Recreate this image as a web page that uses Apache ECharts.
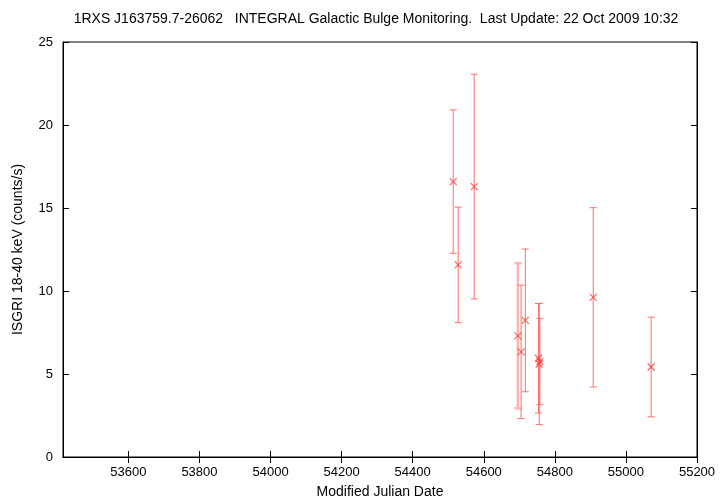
<!DOCTYPE html>
<html><head><meta charset="utf-8">
<script src="https://cdn.jsdelivr.net/npm/echarts@6/dist/echarts.min.js"></script>
<style>html,body{margin:0;padding:0;background:#fff}#c{width:720px;height:504px}</style>
</head><body><div id="c"></div>
<script>
// Data
const mjd   = [54514, 54528, 54573, 54705, 54717, 54754, 54756, 54758, 54908, 55071];
const rate  = [16.59, 11.57, 16.29, 6.33, 8.23, 5.95, 5.60, 5.75, 9.62, 5.42];
const err   = [4.32, 3.48, 6.77, 4.02, 4.30, 3.30, 3.65, 2.60, 5.40, 3.00];
// faint (lighter) point
const mjdFaint  = [54696];
const rateFaint = [7.30];
const errFaint  = [4.37];
const xTicks = [53600, 53800, 54000, 54200, 54400, 54600, 54800, 55000, 55200];
const xMin = 53416, xMax = 55200;
const yMin = 0, yMax = 25, yStep = 5;
const titleText = '1RXS J163759.7-26062   INTEGRAL Galactic Bulge Monitoring.  Last Update: 22 Oct 2009 10:32';

const font = 'Liberation Sans, Helvetica, Arial, sans-serif';
function errData(xs, ys, es){ return xs.map((x,i)=>[x, ys[i]-es[i], ys[i]+es[i]]); }
function ptData(xs, ys){ return xs.map((x,i)=>[x, ys[i]]); }
function errRender(color, width){
  return function(params, api){
    const x = api.value(0);
    const lo = api.coord([x, api.value(1)]);
    const hi = api.coord([x, api.value(2)]);
    const hw = 3.5;
    const st = {stroke: color, lineWidth: width, fill: null};
    return {type:'group', children:[
      {type:'line', shape:{x1:lo[0], y1:lo[1], x2:hi[0], y2:hi[1]}, style:st},
      {type:'line', shape:{x1:lo[0]-hw, y1:lo[1], x2:lo[0]+hw, y2:lo[1]}, style:st},
      {type:'line', shape:{x1:hi[0]-hw, y1:hi[1], x2:hi[0]+hw, y2:hi[1]}, style:st}
    ]};
  };
}
const xSymbol = 'path://M0,0L10,10M10,0L0,10';
const axisLineStyle = {color:'#000', width:1};
const tickStyle = {show:true, inside:true, length:6, lineStyle:{color:'#000'}};

const chart = echarts.init(document.getElementById('c'), null, {renderer:'canvas'});
chart.setOption({
  animation:false,
  backgroundColor:'#fff',
  graphic:[{type:'text', x:376, y:19, style:{text:titleText, font:'14px '+font, fill:'#000', textAlign:'center', textVerticalAlign:'middle'}}],
  grid:{left:63, right:23, top:42, bottom:42, show:true, borderColor:'#000', borderWidth:1},
  xAxis:[{
    type:'value', min:xMin, max:xMax, position:'bottom',
    name:'Modified Julian Date', nameLocation:'middle', nameGap:28,
    nameTextStyle:{fontFamily:font, fontSize:14, color:'#000'},
    axisLine:{show:true, lineStyle:axisLineStyle},
    axisTick:Object.assign({customValues:xTicks}, tickStyle),
    axisLabel:{customValues:xTicks, formatter:v=>String(v), fontFamily:font, fontSize:13, color:'#000', margin:9},
    splitLine:{show:false}
  },{
    type:'value', min:xMin, max:xMax, position:'top',
    axisLine:{show:true, lineStyle:axisLineStyle},
    axisTick:Object.assign({customValues:xTicks}, tickStyle),
    axisLabel:{show:false}, splitLine:{show:false}
  }],
  yAxis:[{
    type:'value', min:yMin, max:yMax, interval:yStep, position:'left',
    name:'ISGRI 18-40 keV (counts/s)', nameLocation:'middle', nameGap:38,
    nameTextStyle:{fontFamily:font, fontSize:14, color:'#000'},
    axisLine:{show:true, lineStyle:axisLineStyle},
    axisTick:tickStyle,
    axisLabel:{fontFamily:font, fontSize:13, color:'#000', margin:10},
    splitLine:{show:false}
  },{
    type:'value', min:yMin, max:yMax, interval:yStep, position:'right',
    axisLine:{show:true, lineStyle:axisLineStyle},
    axisTick:tickStyle, axisLabel:{show:false}, splitLine:{show:false}
  }],
  series:[
    {type:'custom', renderItem:errRender('#ffb4b4', 2.5), data:errData(mjdFaint, rateFaint, errFaint), encode:{x:0, y:[1,2]}, z:1},
    {type:'custom', renderItem:errRender('#ff6e6e', 1), data:errData(mjd, rate, err), encode:{x:0, y:[1,2]}, z:2},
    {type:'scatter', data:ptData(mjdFaint, rateFaint), symbol:xSymbol, symbolSize:7, itemStyle:{color:'none', borderColor:'#ff3b3b', borderWidth:1.2}, z:3},
    {type:'scatter', data:ptData(mjd, rate), symbol:xSymbol, symbolSize:7, itemStyle:{color:'none', borderColor:'#ff3b3b', borderWidth:1.2}, z:3}
  ]
});
</script></body></html>
